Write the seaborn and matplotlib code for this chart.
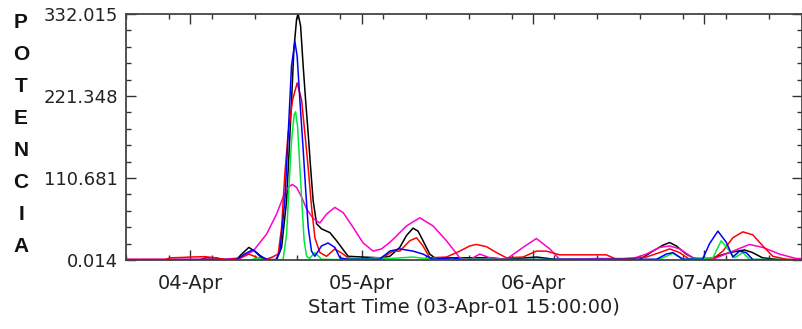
import numpy as np
import pandas as pd
import matplotlib
matplotlib.use("Agg")
import matplotlib.pyplot as plt
import matplotlib.dates as mdates
from matplotlib.ticker import FixedLocator, FixedFormatter
import seaborn as sns

# Hours after the start time and power values for each channel
black_t = [0, 10.4, 11.2, 12.6, 13.2, 15.5, 16.2, 17.2, 18.0, 19.0,
           20.2, 21.09, 21.79, 22.49, 22.85, 23.19, 23.51, 23.89, 24.11, 24.45,
           24.81, 25.15, 25.51, 25.85, 26.21, 26.69, 27.39, 28.55, 29.49, 30.41,
           31.11, 33.2, 35.54, 36.94, 38.34, 39.28, 40.20, 40.90, 41.60, 42.54,
           43.48, 44.5, 51.0, 53.0, 57.5, 60.0, 71.93, 73.79, 75.19, 76.13,
           77.06, 78.46, 79.86, 82.14, 84.52, 86.62, 87.74, 89.14, 91.52, 94.6]
black_v = [0.5, 0.5, 3, 3, 0.5, 1, 8, 17, 12, 3,
           0.5, 0.5, 17, 80, 148, 216, 284, 325, 332.015, 316,
           262, 216, 171, 125, 80, 49, 42, 37, 26, 14,
           5, 4, 3, 5, 17, 33, 43, 39, 26, 8,
           1, 3, 3, 1, 4, 1, 0.5, 12, 20, 23.6,
           19, 8, 0.5, 3, 10, 13.6, 10, 3, 0.5, 0.3]

blue_t = [0, 15.5, 16.6, 17.8, 18.8, 19.7, 21.0, 21.55, 22.25, 22.72,
          23.18, 23.65, 23.97, 24.35, 24.82, 25.14, 25.52, 25.98, 26.45, 27.38,
          28.3, 29.25, 29.95, 31.0, 35.54, 36.94, 38.34, 40.20, 41.60, 42.96,
          45.76, 47.0, 74.3, 75.67, 76.59, 77.99, 80.74, 81.72, 82.89, 84.06,
          84.98, 85.92, 86.86, 87.78, 94.6]
blue_v = [0.3, 0.5, 8, 14, 6, 0.5, 0.5, 12, 80, 171,
          262, 295, 275, 216, 148, 98, 44, 12, 5, 19,
          23, 17, 3, 1, 1, 12, 15, 12, 8, 1,
          3, 0.5, 1, 8, 10, 1, 1, 22, 39, 24,
          4, 12, 10, 0.5, 0.3]

red_t = [0, 5.5, 6.2, 8.0, 9.0, 11.0, 12.6, 14.0, 15.9, 17.2,
         18.5, 19.5, 20.5, 21.31, 21.79, 22.25, 22.71, 23.33, 23.97, 24.59,
         25.05, 25.51, 25.99, 26.45, 27.15, 28.09, 29.25, 30.41, 31.35, 35.54,
         37.36, 38.34, 39.74, 40.68, 41.60, 42.54, 44.88, 46.74, 48.14, 49.08,
         50.48, 51.88, 53.27, 55.60, 57.47, 58.87, 60.73, 63.53, 67.27, 68.67,
         72.87, 74.73, 76.13, 77.53, 78.93, 82.14, 83.59, 84.98, 86.38, 87.78,
         89.18, 90.58, 92.46, 94.6]
red_v = [0.5, 0.5, 3, 3.5, 4, 4.5, 3, 0.5, 2, 8,
         3, 0.5, 4, 8, 44, 117, 171, 216, 239, 216,
         171, 125, 71, 30, 10, 5, 15, 8, 1, 0.5,
         12, 12, 26, 30, 19, 3, 4, 12, 19, 21,
         18, 10, 3, 4, 12, 12, 7, 7, 7, 1,
         4, 10, 15, 10, 1, 1, 12, 30, 38, 34,
         19, 5, 1, 0.5]

green_t = [0, 17.5, 18.47, 19.3, 21.5, 22.01, 22.49, 22.85, 23.19, 23.55,
           23.75, 24.03, 24.35, 24.67, 24.95, 25.29, 25.7, 26.45, 27.39, 30.0,
           31.5, 33.0, 35.0, 37.0, 40.2, 42.0, 45.0, 74.0, 75.19, 76.59,
           77.99, 82.19, 83.36, 84.28, 85.22, 86.38, 87.32, 94.6]
green_v = [0.2, 0.2, 3, 0.2, 0.2, 1, 35, 103, 162, 196,
           200, 180, 125, 71, 26, 5, 2, 10, 1, 0.5,
           3, 1, 3, 2, 4, 2, 1, 0.5, 3, 9,
           1, 3, 26, 15, 3, 10, 1, 0.2]

magenta_t = [0, 14.0, 15.95, 17.81, 19.69, 21.09, 22.01, 22.71, 23.27, 23.89,
             24.59, 25.29, 26.21, 27.15, 28.09, 29.25, 30.41, 31.81, 33.21, 34.61,
             35.78, 36.71, 37.41, 39.28, 41.14, 43.00, 44.88, 46.74, 48.14, 49.54,
             50.94, 53.27, 55.60, 57.47, 59.34, 60.73, 66.0, 71.0, 72.87, 74.73,
             76.13, 77.53, 79.39, 82.19, 84.98, 87.32, 89.18, 91.52, 93.86, 94.6]
magenta_v = [1, 1, 3, 12, 35, 62, 85, 98, 102, 98,
             85, 69, 56, 50, 62, 71, 64, 44, 23, 12,
             15, 22, 28, 46, 57, 46, 26, 3, 0.5, 8,
             3, 1, 17, 29, 15, 1, 2, 2, 8, 17,
             19, 15, 3, 1, 12, 21, 17, 8, 2, 2]

series_names = ["black", "magenta", "red", "green", "blue"]
series_colors = ["#000000", "#ff00cc", "#ff0000", "#00e83a", "#0000ff"]

y_min, y_max = 0.014, 332.015
x_span_hours = 94.6
x_tick_labels = ["04-Apr", "05-Apr", "06-Apr", "07-Apr"]
y_axis_letters = list("POTENCIA")
x_axis_title = "Start Time (03-Apr-01 15:00:00)"

start = pd.Timestamp("2001-04-03 15:00:00")

frames = []
for name, t, v in [("black", black_t, black_v), ("magenta", magenta_t, magenta_v),
                   ("red", red_t, red_v), ("green", green_t, green_v),
                   ("blue", blue_t, blue_v)]:
    frames.append(pd.DataFrame({
        "time": start + pd.to_timedelta(np.array(t), unit="h"),
        "value": np.clip(np.array(v, dtype=float), y_min, None),
        "series": name,
    }))
df = pd.concat(frames, ignore_index=True)

sns.set_style("ticks")
plt.rcParams["font.family"] = ["DejaVu Sans"]

W, H = 802, 329
fig = plt.figure(figsize=(W / 100, H / 100), dpi=100)
left, right, top, bottom = 126, 801.5, 14, 260
ax = fig.add_axes([left / W, (H - bottom) / H, (right - left) / W, (bottom - top) / H])

sns.lineplot(data=df, x="time", y="value", hue="series", hue_order=series_names,
             palette=dict(zip(series_names, series_colors)), estimator=None, sort=False,
             legend=False, linewidth=1.1, ax=ax)

ax.set_xlim(start, start + pd.Timedelta(hours=x_span_hours))
ax.set_ylim(y_min, y_max)

# Day ticks with 6-hour minor ticks
ax.xaxis.set_major_locator(mdates.DayLocator())
ax.xaxis.set_major_formatter(FixedFormatter(x_tick_labels))
ax.xaxis.set_minor_locator(mdates.HourLocator(byhour=[3, 9, 15, 21]))

major_y = np.linspace(y_min, y_max, 4)
ax.yaxis.set_major_locator(FixedLocator(major_y))
ax.yaxis.set_major_formatter(FixedFormatter([f"{v:.3f}" for v in major_y]))
ax.yaxis.set_minor_locator(FixedLocator(np.linspace(y_min, y_max, 16)))

ax.tick_params(which="both", direction="in", top=True, right=True, colors="#333333")
ax.tick_params(which="major", length=7, width=1.0)
ax.tick_params(which="minor", length=3.5, width=1.0)
ax.tick_params(axis="x", which="major", labelsize=14, pad=10, labelcolor="#222222")
ax.tick_params(axis="y", which="major", labelsize=13, pad=6, labelcolor="#222222")

for s in ax.spines.values():
    s.set_color("#444444")
    s.set_linewidth(1.3)

ax.set_xlabel(x_axis_title, fontsize=14, color="#222222", labelpad=4)
ax.set_ylabel("")

# Vertical stacked axis title
ys = np.linspace(22, 247, len(y_axis_letters))
for ch, yp in zip(y_axis_letters, ys):
    fig.text(21 / W, 1 - yp / H, ch, ha="center", va="center", fontsize=15,
             fontweight="bold", family="Liberation Sans", color="#111111")

fig.savefig("out.png", dpi=100)
